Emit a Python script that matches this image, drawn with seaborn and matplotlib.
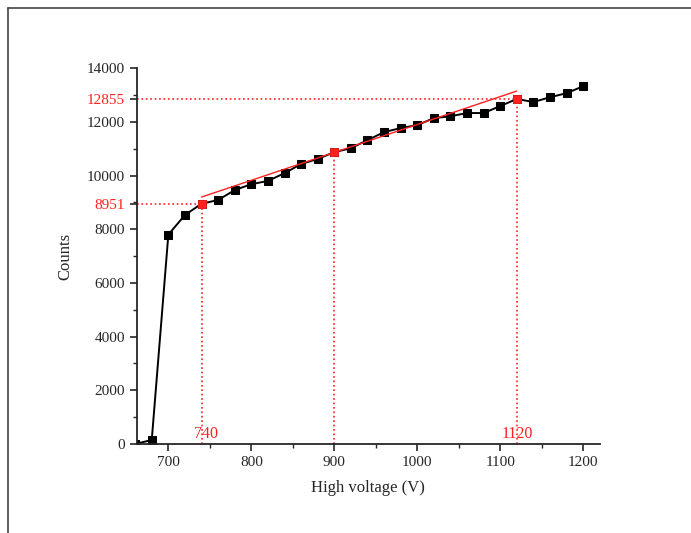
import numpy as np
import pandas as pd
import matplotlib.pyplot as plt
import matplotlib.lines as mlines
import seaborn as sns

# plateau curve
voltage = [660, 680, 700, 720, 740, 760, 780, 800, 820, 840, 860, 880, 900,
           920, 940, 960, 980, 1000, 1020, 1040, 1060, 1080, 1100, 1120,
           1140, 1160, 1180, 1200]
counts = [0, 150, 7800, 8530, 8951, 9090, 9460, 9680, 9800, 10090, 10430,
          10620, 10872, 11020, 11320, 11620, 11770, 11880, 12140, 12210,
          12330, 12330, 12590, 12855, 12740, 12920, 13070, 13330]

# highlighted points and fitted plateau line
mark_v = [740, 900, 1120]
mark_c = [8951, 10872, 12855]
fit_v = [740, 1120]
fit_c = [9200, 13150]

df = pd.DataFrame({'voltage': voltage, 'counts': counts})
marks = pd.DataFrame({'voltage': mark_v, 'counts': mark_c})
fit = pd.DataFrame({'voltage': fit_v, 'counts': fit_c})

sns.set_style('ticks')
plt.rcParams['font.family'] = ['Liberation Serif', 'DejaVu Serif']
red = '#ff2020'

fig = plt.figure(figsize=(6.91, 5.33), dpi=100)
ax = fig.add_axes([0.198, 0.167, 0.670, 0.705])

sns.lineplot(data=df, x='voltage', y='counts', ax=ax, color='black',
             marker='s', markersize=6, markeredgecolor='black', lw=1.4)
sns.lineplot(data=fit, x='voltage', y='counts', ax=ax, color=red, lw=1.0)
sns.scatterplot(data=marks, x='voltage', y='counts', ax=ax, color=red,
                marker='s', s=40, edgecolor=red, zorder=5)

# dotted guide lines
xmin, xmax = 662, 1220
for v, c in zip(mark_v, mark_c):
    ax.plot([v, v], [0, c], ls=':', color=red, lw=1.2)
ax.plot([xmin, mark_v[0]], [mark_c[0]] * 2, ls=':', color=red, lw=1.2)
ax.plot([xmin, mark_v[2]], [mark_c[2]] * 2, ls=':', color=red, lw=1.2)

ax.text(745, 60, '740', color=red, fontsize=11.5, ha='center', va='bottom')
ax.text(1121, 60, '1120', color=red, fontsize=11.5, ha='center', va='bottom')

ax.set_xlim(xmin, xmax)
ax.set_ylim(0, 14000)
ax.set_xticks([700, 800, 900, 1000, 1100, 1200])
ax.set_xticks(np.arange(750, 1200, 100), minor=True)
yt = [0, 2000, 4000, 6000, 8000, 8951, 10000, 12000, 12855, 14000]
ax.set_yticks(yt)
ax.set_yticklabels([str(t) for t in yt])
ax.set_yticks(np.arange(1000, 14000, 2000), minor=True)
for lab in ax.get_yticklabels():
    if lab.get_text() in ('8951', '12855'):
        lab.set_color(red)
ax.tick_params(axis='both', which='major', length=5, width=1.2, labelsize=11)
ax.tick_params(axis='both', which='minor', length=3, width=1.0)

sns.despine(ax=ax)
for s in ('left', 'bottom'):
    ax.spines[s].set_linewidth(1.3)

ax.set_xlabel('High voltage (V)', fontsize=12, labelpad=8)
ax.set_ylabel('Counts', fontsize=12, labelpad=10)

# page frame around the figure
fig.add_artist(mlines.Line2D([0.012, 1.0], [0.985, 0.985], color='#444444', lw=1.2))
fig.add_artist(mlines.Line2D([0.012, 0.012], [0.0, 0.985], color='#444444', lw=1.2))

fig.savefig('out.png', dpi=100)
